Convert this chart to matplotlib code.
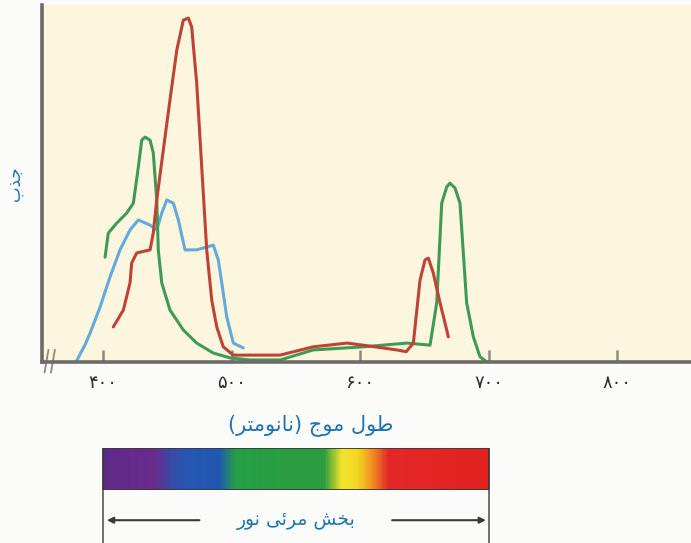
import numpy as np
import matplotlib
matplotlib.use("Agg")
import matplotlib.pyplot as plt
from matplotlib import font_manager, ft2font
from matplotlib.colors import LinearSegmentedColormap
from matplotlib.patches import Rectangle

# absorption spectra (nm, relative absorbance)
green_nm = [401.6, 404.1, 410.7, 418.4, 423.6, 427.5, 430.1, 432.7, 436.6, 439.1, 441.8,
            443.0, 445.7, 452.1, 462.5, 472.9, 485.8, 498.8, 514.4, 538, 563.4, 602.3,
            636.6, 654.5, 659.7, 663.6, 667.5, 670.0, 673.9, 677.8, 680.4, 683.0,
            688.2, 693.4, 698.8]
green_abs = [0.305, 0.375, 0.404, 0.433, 0.462, 0.567, 0.645, 0.654, 0.645, 0.608, 0.471,
             0.326, 0.23, 0.151, 0.093, 0.055, 0.026, 0.012, 0.006, 0.006, 0.035, 0.044,
             0.055, 0.049, 0.172, 0.462, 0.509, 0.52, 0.506, 0.462, 0.317, 0.172,
             0.073, 0.015, 0.0]

red_nm = [408.0, 415.8, 421.0, 422.3, 426.2, 436.6, 439.1, 441.8, 446.9, 452.1, 457.4,
          462.5, 466.4, 469.0, 472.9, 476.8, 480.7, 484.6, 488.5, 493.6, 501.4, 522.2,
          537.7, 563.4, 589.9, 602.3, 628.8, 636.0, 641.5, 646.7, 650.6, 653.2, 657.0,
          662.3, 667.5, 668.7]
red_abs = [0.102, 0.151, 0.23, 0.288, 0.317, 0.326, 0.375, 0.471, 0.616, 0.762, 0.907,
           0.994, 1.0, 0.974, 0.811, 0.567, 0.326, 0.18, 0.102, 0.044, 0.02, 0.02,
           0.02, 0.044, 0.055, 0.049, 0.035, 0.03, 0.055, 0.238, 0.297, 0.302, 0.259,
           0.172, 0.093, 0.073]

blue_nm = [379.8, 386.0, 389.9, 397.7, 405.4, 413.2, 421.0, 427.5, 436.6, 441.8, 445.7,
           449.6, 454.7, 458.6, 463.8, 472.9, 485.8, 489.7, 492.4, 496.3, 501.4, 509.2]
blue_abs = [0.006, 0.05, 0.084, 0.16, 0.247, 0.326, 0.384, 0.413, 0.398, 0.384, 0.433,
            0.471, 0.462, 0.413, 0.326, 0.326, 0.34, 0.297, 0.23, 0.131, 0.055, 0.041]

tick_nm = [400, 500, 600, 700, 800]
tick_labels = ["۴۰۰", "۵۰۰", "۶۰۰", "۷۰۰", "۸۰۰"]

# visible light band under the axis
visible_range = (400, 700)
spectrum_nm = [400, 440, 452, 462, 490, 503, 572, 586, 598, 610, 622, 700]
spectrum_colors = ["#5e2a88", "#6a2d8c", "#3a4aa6", "#2756b2", "#2158b0", "#25a046",
                   "#2e9c40", "#f4e42a", "#f3d824", "#f28d22", "#e3282a", "#e2221f"]

y_title = "جذب"
x_title = "طول موج (نانومتر)"
band_title = "بخش مرئی نور"

# matplotlib has no arabic shaping, so pick presentation forms by hand
_charmap = ft2font.FT2Font(font_manager.findfont("DejaVu Sans")).get_charmap()
if 0xFBFD in _charmap:
    _yeh = ("\uFBFC", "\uFBFD", "\uFBFE", "\uFBFF")
else:
    _yeh = ("\uFEEF", "\uFEF0", "\uFEF3", "\uFEF4")

FORMS = {
    "ا": ("\uFE8D", "\uFE8E", None, None),
    "ب": ("\uFE8F", "\uFE90", "\uFE91", "\uFE92"),
    "ت": ("\uFE95", "\uFE96", "\uFE97", "\uFE98"),
    "ج": ("\uFE9D", "\uFE9E", "\uFE9F", "\uFEA0"),
    "خ": ("\uFEA5", "\uFEA6", "\uFEA7", "\uFEA8"),
    "ذ": ("\uFEAB", "\uFEAC", None, None),
    "ر": ("\uFEAD", "\uFEAE", None, None),
    "ش": ("\uFEB5", "\uFEB6", "\uFEB7", "\uFEB8"),
    "ط": ("\uFEC1", "\uFEC2", "\uFEC3", "\uFEC4"),
    "ل": ("\uFEDD", "\uFEDE", "\uFEDF", "\uFEE0"),
    "م": ("\uFEE1", "\uFEE2", "\uFEE3", "\uFEE4"),
    "ن": ("\uFEE5", "\uFEE6", "\uFEE7", "\uFEE8"),
    "و": ("\uFEED", "\uFEEE", None, None),
    "ئ": ("\uFE89", "\uFE8A", "\uFE8B", "\uFE8C"),
    "ی": _yeh,
}


def fa(text):
    out = []
    for i, ch in enumerate(text):
        if ch not in FORMS:
            out.append(ch)
            continue
        iso, fin, ini, med = FORMS[ch]
        prev = text[i - 1] if i > 0 else ""
        nxt = text[i + 1] if i + 1 < len(text) else ""
        jp = prev in FORMS and FORMS[prev][2] is not None
        jn = ini is not None and nxt in FORMS
        if jp and jn:
            out.append(med)
        elif jp:
            out.append(fin)
        elif jn:
            out.append(ini)
        else:
            out.append(iso)
    s = "".join(out)[::-1]
    return s.translate(str.maketrans("()", ")("))


plt.rcParams["font.family"] = ["DejaVu Sans"]
text_blue = "#1f73b3"
spine_grey = "#6e6b67"

fig = plt.figure(figsize=(6.91, 5.43), dpi=100, facecolor="#fbfbf9")
left, width = 42 / 691, 1 - 42 / 691
ax = fig.add_axes([left, 181 / 543, width, 357 / 543])
ax.set_facecolor("#fdf6df")

line_kw = dict(lw=2.2, solid_joinstyle="round", solid_capstyle="round")
ax.plot(blue_nm, blue_abs, color="#62aadc", **line_kw)
ax.plot(green_nm, green_abs, color="#3f9a57", **line_kw)
ax.plot(red_nm, red_abs, color="#bf4237", **line_kw)

ax.set_xlim(352.5, 857.6)
ax.set_ylim(0, 1.038)
for s in ["top", "right"]:
    ax.spines[s].set_visible(False)
for s in ["left", "bottom"]:
    ax.spines[s].set_color(spine_grey)
    ax.spines[s].set_linewidth(2.6)
ax.set_xticks(tick_nm)
ax.set_xticklabels(tick_labels)
ax.set_yticks([])
ax.tick_params(axis="x", direction="in", length=9, width=1.8, color="#8c8984",
               pad=9, labelsize=13, labelcolor="#2b2b2b")

# axis break marks at the origin
for x0 in (356, 361):
    ax.plot([x0 - 1.5, x0 + 1.5], [-0.03, 0.035], color="#8c8984", lw=1.3,
            clip_on=False)

ax.set_xlabel(fa(x_title), fontsize=15, color=text_blue, va="center")
ax.xaxis.set_label_coords(0.414, -0.176)
ax.set_ylabel(fa(y_title), fontsize=12, color=text_blue, va="center")
ax.yaxis.set_label_coords(-0.042, 0.5)

# spectrum strip
ax_spec = fig.add_axes([left, 53 / 543, width, 42 / 543])
cmap = LinearSegmentedColormap.from_list(
    "visible",
    [((n - visible_range[0]) / (visible_range[1] - visible_range[0]), c)
     for n, c in zip(spectrum_nm, spectrum_colors)])
ax_spec.imshow(np.linspace(0, 1, 400)[None, :], cmap=cmap, aspect="auto",
               extent=[visible_range[0], visible_range[1], 0, 1])
ax_spec.add_patch(Rectangle((visible_range[0], 0), visible_range[1] - visible_range[0], 1,
                            fill=False, edgecolor="#3a3a3a", lw=1.3))
ax_spec.set_xlim(ax.get_xlim())
ax_spec.set_ylim(0, 1)
ax_spec.axis("off")

# bracket with arrows under the strip
ax_low = fig.add_axes([left, 0, width, 53 / 543])
ax_low.set_xlim(ax.get_xlim())
ax_low.set_ylim(0, 1)
ax_low.axis("off")
for n in visible_range:
    ax_low.plot([n, n], [0, 1], color="#707070", lw=1.4)
mid = (visible_range[0] + visible_range[1]) / 2
arrow_y = 0.43
ax_low.annotate("", xy=(visible_range[0] + 3, arrow_y), xytext=(mid - 75, arrow_y),
                arrowprops=dict(arrowstyle="-|>", color="#3a3a3a", lw=1.5,
                                mutation_scale=9, shrinkA=0, shrinkB=0))
ax_low.annotate("", xy=(visible_range[1] - 2, arrow_y), xytext=(mid + 75, arrow_y),
                arrowprops=dict(arrowstyle="-|>", color="#3a3a3a", lw=1.5,
                                mutation_scale=9, shrinkA=0, shrinkB=0))
ax_low.text(mid, arrow_y, fa(band_title), fontsize=13.5, color=text_blue,
            ha="center", va="center")

fig.savefig("out.png", dpi=100, facecolor=fig.get_facecolor())
